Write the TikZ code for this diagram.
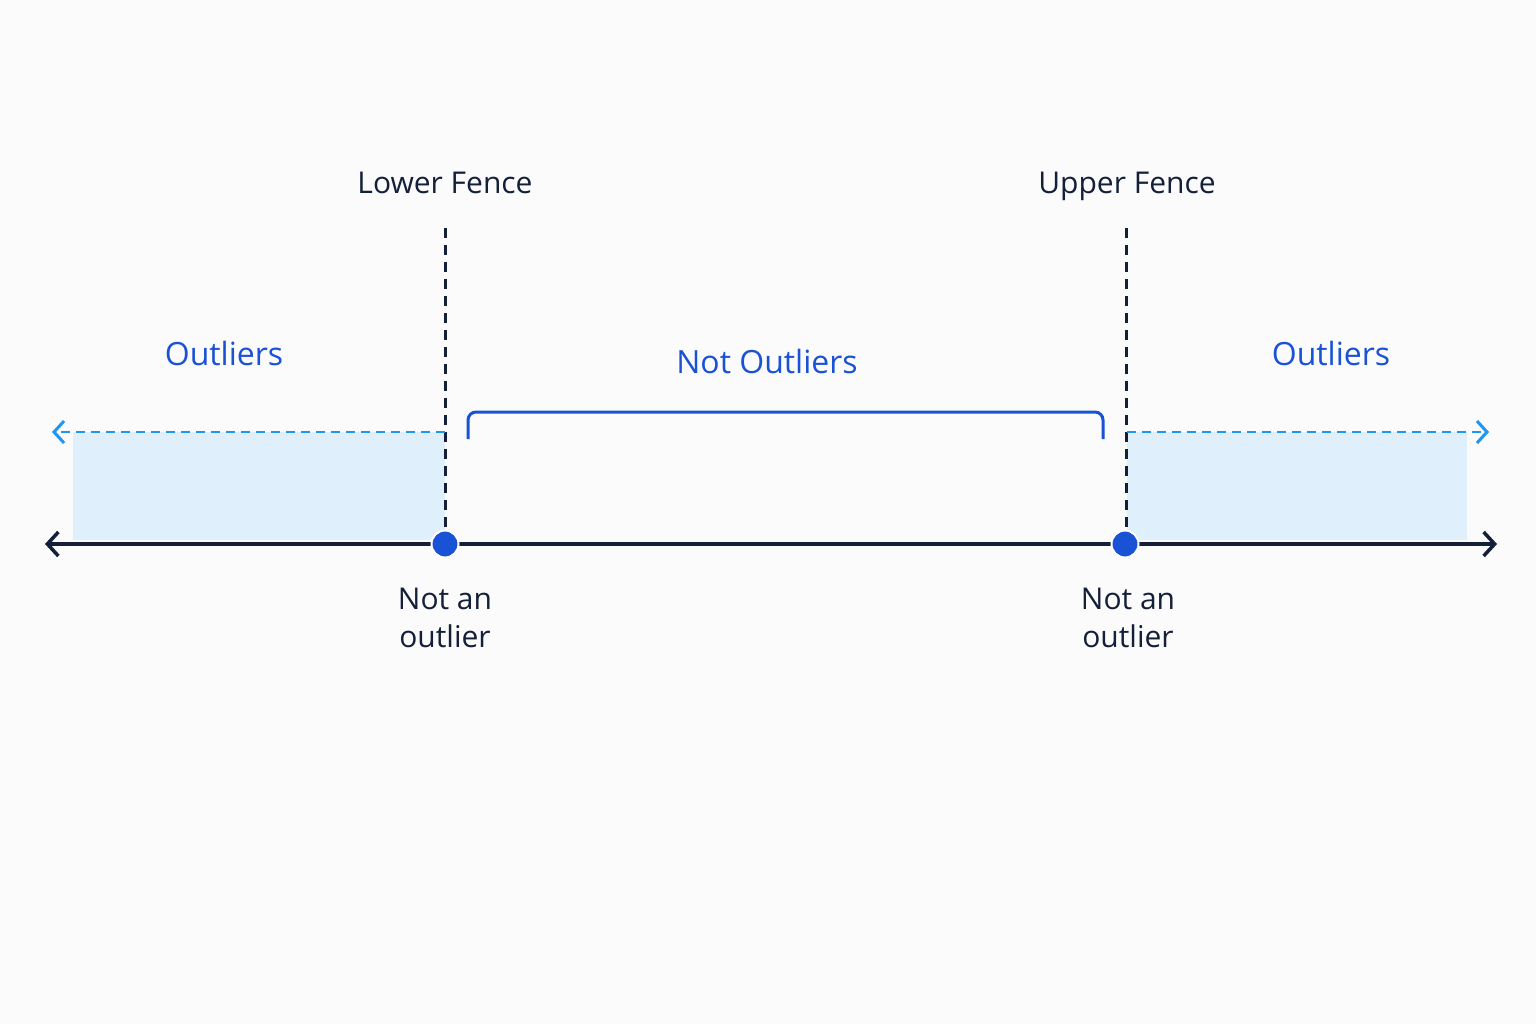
\documentclass[tikz,border=0pt]{standalone}
\usepackage{fontspec}
\setmainfont{Open Sans}
\usetikzlibrary{arrows.meta}
\definecolor{navy}{HTML}{14203A}
\definecolor{blu}{HTML}{1A52D6}
\definecolor{lblu}{HTML}{2196F0}
\definecolor{shadeblue}{HTML}{E0EFFC}
\begin{document}
\begin{tikzpicture}[x=1pt,y=-1pt,
  lbl/.style={font=\fontsize{30}{38}\selectfont, text=navy, align=center},
  blbl/.style={font=\fontsize{32}{38}\selectfont, text=blu, text depth=0pt, text height=23pt},
  fence/.style={navy, line width=3pt, dash pattern=on 10pt off 7pt},
  ext/.style={lblu, line width=2.8pt, dash pattern=on 9pt off 6pt, -{Straight Barb[length=10pt,width=22pt,line width=3pt]}},
  dot/.style={circle, fill=blu, draw=white, line width=2pt, minimum size=27pt, inner sep=0pt}]
\fill[white!97!gray] (0,0) rectangle (1536,1024);
\fill[shadeblue] (73,432) rectangle (445,540);
\fill[shadeblue] (1127,432) rectangle (1467,540);
\coordinate (al) at (45,544); \coordinate (ar) at (1497,544);
\draw[navy, line width=3.5pt, {Straight Barb[length=11pt,width=24pt,line width=3.5pt]}-{Straight Barb[length=11pt,width=24pt,line width=3.5pt]}] (al) -- (ar);
\coordinate (lt) at (445,228); \coordinate (lb) at (445,532);
\coordinate (ut) at (1126,228); \coordinate (ub) at (1126,532);
\draw[fence] (lt) -- (lb);
\draw[fence] (ut) -- (ub);
\coordinate (l0) at (445,432); \coordinate (l1) at (52,432);
\coordinate (u0) at (1127,432); \coordinate (u1) at (1489,432);
\draw[ext] (l0) -- (l1);
\draw[ext] (u0) -- (u1);
\node[dot] (dl) at (445,544) {};
\node[dot] (du) at (1125,544) {};
\draw[blu, line width=3pt, rounded corners=8pt] (468,439) -- (468,412) -- (1103,412) -- (1103,439);
\node[lbl, text depth=0pt, text height=22pt] (lf) at (445,183) {Lower Fence};
\node[lbl, text depth=0pt, text height=22pt] (uf) at (1127,183) {Upper Fence};
\node[blbl] (o1) at (224,354) {Outliers};
\node[blbl] (o2) at (1331,354) {Outliers};
\node[blbl] (no) at (767,362) {Not Outliers};
\node[lbl] (n1) at (445,618) {Not an\\outlier};
\node[lbl] (n2) at (1128,618) {Not an\\outlier};
\end{tikzpicture}
\end{document}
